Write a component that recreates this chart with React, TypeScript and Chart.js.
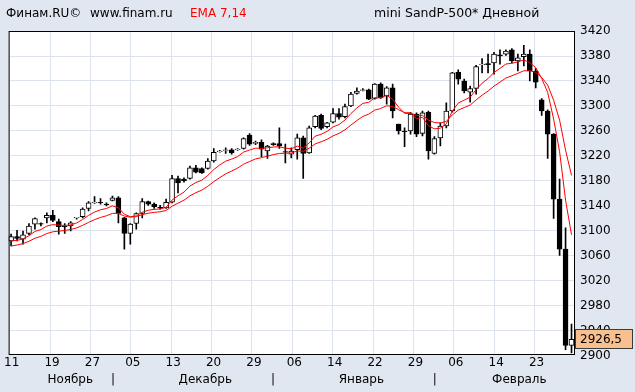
import React, { useEffect, useRef } from 'react';
import { Chart, registerables } from 'chart.js';

Chart.register(...registerables);

// Daily candles (index 0 = 11 Nov ... last = end of Feb)
const opens = [
  3084, 3091, 3087, 3096, 3111, 3112, 3121, 3125, 3115, 3108,
  3108, 3121, 3123, 3136, 3145, 3146, 3143, 3149, 3153, 3121,
  3096, 3112, 3128, 3147, 3143, 3138, 3137, 3146, 3184, 3183,
  3184, 3201, 3200, 3200, 3212, 3227, 3229, 3230, 3230, 3232,
  3253, 3240, 3242, 3228, 3240, 3240, 3227, 3223, 3230, 3249,
  3225, 3267, 3285, 3267, 3274, 3288, 3283, 3300, 3320, 3325,
  3326, 3312, 3335, 3316, 3329, 3271, 3260, 3260, 3287, 3256,
  3290, 3224, 3249, 3268, 3292, 3354, 3340, 3322, 3328, 3366,
  3368, 3369, 3382, 3383, 3390, 3372, 3379, 3383, 3356, 3310,
  3292, 3255, 3151, 3071, 2917,
];
const highs = [
  3095, 3101, 3100, 3112, 3121, 3113, 3129, 3133, 3119, 3112,
  3115, 3122, 3137, 3147, 3155, 3152, 3145, 3156, 3155, 3122,
  3112, 3129, 3152, 3148, 3145, 3141, 3151, 3189, 3188, 3185,
  3204, 3205, 3201, 3216, 3232, 3229, 3233, 3232, 3232, 3249,
  3256, 3244, 3246, 3237, 3241, 3265, 3239, 3233, 3255, 3252,
  3268, 3285, 3287, 3274, 3296, 3296, 3303, 3322, 3329, 3328,
  3327, 3336, 3337, 3331, 3335, 3271, 3265, 3290, 3289, 3292,
  3292, 3251, 3273, 3305, 3354, 3358, 3343, 3332, 3365, 3376,
  3383, 3386, 3390, 3390, 3392, 3383, 3397, 3390, 3360, 3312,
  3294, 3256, 3183, 3105, 2951,
];
const lows = [
  3076, 3084, 3079, 3094, 3103, 3108, 3113, 3115, 3095, 3096,
  3100, 3119, 3121, 3132, 3144, 3143, 3140, 3148, 3113, 3071,
  3079, 3103, 3121, 3141, 3136, 3135, 3136, 3145, 3161, 3178,
  3183, 3193, 3192, 3199, 3210, 3226, 3224, 3223, 3229, 3231,
  3237, 3238, 3219, 3216, 3237, 3232, 3209, 3217, 3215, 3184,
  3224, 3265, 3262, 3265, 3273, 3279, 3281, 3299, 3319, 3324,
  3310, 3311, 3312, 3303, 3281, 3255, 3235, 3255, 3251, 3252,
  3215, 3223, 3236, 3265, 3290, 3335, 3321, 3306, 3319, 3353,
  3353, 3351, 3367, 3381, 3369, 3356, 3364, 3340, 3329, 3285,
  3216, 3120, 3061, 2910, 2905,
];
const closes = [
  3091, 3088, 3094, 3108, 3120, 3111, 3125, 3117, 3107, 3107,
  3113, 3122, 3135, 3145, 3146, 3145, 3142, 3153, 3128, 3096,
  3111, 3128, 3147, 3143, 3139, 3137, 3146, 3184, 3177, 3180,
  3201, 3194, 3193, 3212, 3226, 3228, 3230, 3225, 3231, 3248,
  3239, 3242, 3231, 3236, 3238, 3236, 3226, 3228, 3249, 3224,
  3265, 3284, 3264, 3273, 3288, 3282, 3299, 3319, 3324, 3326,
  3311, 3335, 3313, 3329, 3292, 3260, 3259, 3287, 3255, 3289,
  3228, 3248, 3268, 3292, 3353, 3343, 3324, 3328, 3363, 3367,
  3366, 3383, 3380, 3388, 3372, 3377, 3383, 3356, 3338, 3292,
  3255, 3151, 3071, 2917, 2926.5,
];

// EMA 7,14 values at the first visible candle
const EMA_FAST_PERIOD = 7;
const EMA_SLOW_PERIOD = 14;
const EMA_FAST_START = 3084;
const EMA_SLOW_START = 3076;

const xTickLabels = ['11', '19', '27', '05', '13', '20', '29', '06', '14', '22', '29', '06', '14', '23'];
const X_TICK_START = -0.24;
const X_TICK_STEP = 6.772;

const monthLabels = ['Ноябрь', '|', 'Декабрь', '|', 'Январь', '|', 'Февраль'];
const monthPositions = [9.92, 17.08, 32.58, 43.92, 58.75, 71.08, 85.25];

const yTickValues = [2900, 2940, 2980, 3020, 3060, 3100, 3140, 3180, 3220, 3260, 3300, 3340, 3380, 3420];
const Y_MIN = 2903.2;
const Y_MAX = 3420;
const X_MIN = -0.41667;
const X_MAX = 94.41667;

const FONT = 'DejaVu Sans';
const BG = '#E1E7F0';
const GRID = '#DCE3EE';

function ema(values: number[], period: number, start: number): number[] {
  const a = 2 / (period + 1);
  const out: number[] = [start];
  for (let i = 1; i < values.length; i++) {
    out.push(out[i - 1] + a * (values[i] - out[i - 1]));
  }
  return out;
}

export default function App() {
  const ref = useRef<HTMLCanvasElement | null>(null);

  useEffect(() => {
    const canvas = ref.current;
    if (!canvas) return;
    const emaFast = ema(closes, EMA_FAST_PERIOD, EMA_FAST_START);
    const emaSlow = ema(closes, EMA_SLOW_PERIOD, EMA_SLOW_START);

    const framePlugin = {
      id: 'frame',
      beforeDraw(chart: any) {
        const ctx = chart.ctx;
        const a = chart.chartArea;
        ctx.save();
        ctx.fillStyle = BG;
        ctx.fillRect(0, 0, chart.width, chart.height);
        ctx.fillStyle = '#ffffff';
        ctx.fillRect(a.left, a.top, a.right - a.left, a.bottom - a.top);
        ctx.restore();
      },
      afterDraw(chart: any) {
        const ctx = chart.ctx;
        const a = chart.chartArea;
        ctx.save();
        ctx.strokeStyle = '#000';
        ctx.lineWidth = 1;
        ctx.strokeRect(a.left + 0.5, a.top + 0.5, a.right - a.left, a.bottom - a.top);

        ctx.font = `12px "${FONT}"`;
        ctx.textBaseline = 'middle';
        ctx.textAlign = 'left';
        ctx.fillStyle = '#000';
        ctx.fillText('Финам.RU©', 6, 14);
        ctx.fillText('www.finam.ru', 90, 14);
        ctx.fillStyle = '#ff0000';
        ctx.fillText('EMA 7,14', 190, 14);
        ctx.fillStyle = '#000';
        ctx.font = `12.5px "${FONT}"`;
        ctx.fillText('mini SandP-500* Дневной', 374, 14);

        ctx.font = `12px "${FONT}"`;
        const last = closes[closes.length - 1];
        const y = chart.scales.y.getPixelForValue(last);
        const bx = a.right + 1;
        ctx.fillStyle = '#F9C08F';
        ctx.fillRect(bx, Math.round(y) - 10, 633 - bx, 20);
        ctx.strokeStyle = '#3a3a3a';
        ctx.strokeRect(bx + 0.5, Math.round(y) - 10 + 0.5, 633 - bx - 1, 19);
        ctx.fillStyle = '#000';
        ctx.fillText(last.toFixed(1).replace('.', ','), a.right + 6, Math.round(y) + 0.5);
        ctx.restore();
      },
    };

    const chart = new Chart(canvas, {
      type: 'bar',
      data: {
        datasets: [
          {
            type: 'line',
            data: emaFast.map((v, i) => ({ x: i, y: v })),
            borderColor: '#ff0000',
            borderWidth: 1,
            pointRadius: 0,
            tension: 0,
            order: 0,
          } as any,
          {
            type: 'line',
            data: emaSlow.map((v, i) => ({ x: i, y: v })),
            borderColor: '#ff0000',
            borderWidth: 1,
            pointRadius: 0,
            tension: 0,
            order: 0,
          } as any,
          {
            type: 'bar',
            data: closes.map((c, i) => ({ x: i, y: [opens[i], c] })),
            backgroundColor: closes.map((c, i) => (c >= opens[i] ? '#ffffff' : '#000000')),
            borderColor: '#000000',
            borderWidth: 1,
            borderSkipped: false,
            barThickness: 5,
            grouped: false,
            order: 1,
          } as any,
          {
            type: 'bar',
            data: highs.map((h, i) => ({ x: i, y: [lows[i], h] })),
            backgroundColor: '#000000',
            borderWidth: 0,
            barThickness: 1,
            grouped: false,
            order: 2,
          } as any,
        ],
      },
      options: {
        animation: false,
        responsive: false,
        events: [],
        layout: { padding: { left: 5, top: 31, right: 0, bottom: 0 } },
        plugins: { legend: { display: false }, tooltip: { enabled: false } },
        scales: {
          x: {
            type: 'linear',
            position: 'bottom',
            min: X_MIN,
            max: X_MAX,
            offset: false,
            weight: 0,
            afterBuildTicks: (s: any) => {
              s.ticks = xTickLabels.map((_, k) => ({ value: X_TICK_START + k * X_TICK_STEP }));
            },
            afterFit: (s: any) => {
              s.height = 17;
            },
            ticks: {
              autoSkip: false,
              maxRotation: 0,
              minRotation: 0,
              padding: 2,
              labelOffset: 2,
              color: '#000',
              font: { family: FONT, size: 12 },
              callback: (_v: any, i: number) => xTickLabels[i],
            },
            grid: { color: GRID, drawTicks: false, offset: false },
            border: { display: false },
          },
          x2: {
            type: 'linear',
            position: 'bottom',
            min: X_MIN,
            max: X_MAX,
            offset: false,
            weight: 1,
            afterBuildTicks: (s: any) => {
              s.ticks = monthPositions.map((p) => ({ value: p }));
            },
            afterFit: (s: any) => {
              s.height = 21;
            },
            ticks: {
              autoSkip: false,
              maxRotation: 0,
              minRotation: 0,
              padding: 2,
              color: '#000',
              font: { family: FONT, size: 12 },
              callback: (_v: any, i: number) => monthLabels[i],
            },
            grid: { display: false, drawTicks: false },
            border: { display: false },
          },
          y: {
            type: 'linear',
            position: 'right',
            min: Y_MIN,
            max: Y_MAX,
            afterBuildTicks: (s: any) => {
              s.ticks = yTickValues.map((v) => ({ value: v }));
            },
            afterFit: (s: any) => {
              s.width = 61;
            },
            ticks: {
              padding: 6,
              color: '#000',
              font: { family: FONT, size: 12 },
              callback: (v: any) => String(v),
            },
            grid: {
              drawTicks: false,
              color: (c: any) => (c.tick && c.tick.value < Y_MIN ? 'rgba(0,0,0,0)' : GRID),
            },
            border: { display: false },
          },
        },
      } as any,
      plugins: [framePlugin],
    });

    return () => chart.destroy();
  }, []);

  return (
    <div style={{ position: 'fixed', left: 0, top: 0, width: 635, height: 392 }}>
      <canvas ref={ref} width={635} height={392} style={{ display: 'block' }} />
    </div>
  );
}
